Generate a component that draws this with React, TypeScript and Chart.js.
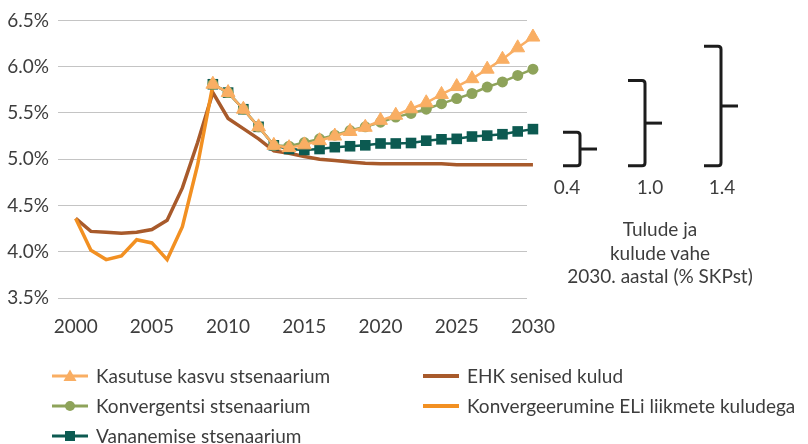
import React, { useEffect, useRef } from 'react';
import { Chart, registerables } from 'chart.js';

Chart.register(...registerables);

const years = [
  2000, 2001, 2002, 2003, 2004, 2005, 2006, 2007, 2008, 2009,
  2010, 2011, 2012, 2013, 2014, 2015, 2016, 2017, 2018, 2019,
  2020, 2021, 2022, 2023, 2024, 2025, 2026, 2027, 2028, 2029, 2030,
];
const xTickYears = [2000, 2005, 2010, 2015, 2020, 2025, 2030];

const kasutuseKasvu = [
  null, null, null, null, null, null, null, null, null,
  5.81, 5.72, 5.54, 5.35, 5.15, 5.125, 5.155, 5.2, 5.25, 5.3, 5.345,
  5.42, 5.475, 5.545, 5.61, 5.7, 5.785, 5.87, 5.973, 6.08, 6.204, 6.32,
];
const konvergentsi = [
  null, null, null, null, null, null, null, null, null,
  5.81, 5.72, 5.54, 5.35, 5.15, 5.14, 5.18, 5.22, 5.26, 5.31, 5.35,
  5.4, 5.455, 5.495, 5.54, 5.6, 5.655, 5.71, 5.78, 5.835, 5.905, 5.973,
];
const vananemise = [
  null, null, null, null, null, null, null, null, null,
  5.81, 5.72, 5.54, 5.35, 5.15, 5.11, 5.1, 5.11, 5.13, 5.14, 5.15,
  5.17, 5.17, 5.175, 5.2, 5.215, 5.22, 5.245, 5.255, 5.27, 5.3, 5.325,
];
const ehkSenisedKulud = [
  4.36, 4.22, 4.21, 4.2, 4.21, 4.24, 4.34, 4.69, 5.18, 5.72,
  5.44, 5.33, 5.22, 5.09, 5.065, 5.03, 5.0, 4.985, 4.97, 4.955,
  4.95, 4.95, 4.95, 4.95, 4.95, 4.94, 4.94, 4.94, 4.94, 4.94, 4.94,
];
const konvergeerumineEL = [
  4.36, 4.015, 3.915, 3.955, 4.13, 4.095, 3.915, 4.27, 4.94, 5.8,
  null, null, null, null, null, null, null, null, null, null,
  null, null, null, null, null, null, null, null, null, null, null,
];

// gap annotation (Tulude ja kulude vahe 2030)
const gapLabels = ['0.4', '1.0', '1.4'];
const gapBracketBase = 4.93;
const gapBracketTops = [5.29, 5.85, 6.22];

const TEXT = '#3d3d3d';
const FONT = 'Lato, "Open Sans", sans-serif';

const C_KASUTUS = '#F9AE63';
const C_KONV = '#8EA35A';
const C_VANA = '#0C5A51';
const C_EHK = '#A85A2B';
const C_EL = '#F29022';

const toXY = (arr: (number | null)[]) => years.map((x, i) => ({ x, y: arr[i] }));

const bracketPlugin = {
  id: 'gapBrackets',
  afterDraw(chart: any) {
    const { ctx, chartArea, scales } = chart;
    const y = scales.y;
    const offsets = [53, 118, 194];
    ctx.save();
    ctx.strokeStyle = '#1c1c1c';
    ctx.lineWidth = 3;
    ctx.lineJoin = 'round';
    ctx.lineCap = 'butt';
    gapBracketTops.forEach((top, i) => {
      const yt = y.getPixelForValue(top);
      const yb = y.getPixelForValue(gapBracketBase);
      const xv = chartArea.right + offsets[i];
      const xl = xv - 17;
      const xr = xv + 17;
      const ym = (yt + yb) / 2;
      const r = 3;
      ctx.beginPath();
      ctx.moveTo(xl, yt);
      ctx.lineTo(xv - r, yt);
      ctx.quadraticCurveTo(xv, yt, xv, yt + r);
      ctx.lineTo(xv, yb - r);
      ctx.quadraticCurveTo(xv, yb, xv - r, yb);
      ctx.lineTo(xl, yb);
      ctx.stroke();
      ctx.beginPath();
      ctx.moveTo(xv, ym);
      ctx.lineTo(xr, ym);
      ctx.stroke();
    });
    ctx.restore();
  },
};

function LegendMarker({ color, kind }: { color: string; kind: string }) {
  return (
    <svg width={40} height={16} style={{ position: 'absolute', left: 0, top: -8 }}>
      <line x1={2} y1={8} x2={38} y2={8} stroke={color} strokeWidth={kind === 'line' ? 4 : 3} />
      {kind === 'triangle' && <polygon points="20,1.5 26.5,13 13.5,13" fill={color} />}
      {kind === 'circle' && <circle cx={20} cy={8} r={5} fill={color} />}
      {kind === 'rect' && <rect x={15} y={3} width={10} height={10} fill={color} />}
    </svg>
  );
}

const legendItems = [
  { label: 'Kasutuse kasvu stsenaarium', color: C_KASUTUS, kind: 'triangle', x: 50, y: 376 },
  { label: 'Konvergentsi stsenaarium', color: C_KONV, kind: 'circle', x: 50, y: 406 },
  { label: 'Vananemise stsenaarium', color: C_VANA, kind: 'rect', x: 50, y: 436 },
  { label: 'EHK senised kulud', color: C_EHK, kind: 'line', x: 421, y: 376 },
  { label: 'Konvergeerumine ELi liikmete kuludega', color: C_EL, kind: 'line', x: 421, y: 406 },
];

export default function App() {
  const canvasRef = useRef<HTMLCanvasElement | null>(null);

  useEffect(() => {
    const canvas = canvasRef.current;
    if (!canvas) return;
    const tickFont = { family: FONT, size: 19 };
    const chart = new Chart(canvas, {
      type: 'line',
      data: {
        datasets: [
          {
            label: 'Kasutuse kasvu stsenaarium',
            data: toXY(kasutuseKasvu),
            borderColor: C_KASUTUS,
            backgroundColor: C_KASUTUS,
            borderWidth: 2.5,
            pointStyle: 'triangle',
            pointRadius: 8,
            pointHoverRadius: 10,
            pointBorderWidth: 1,
            pointBackgroundColor: C_KASUTUS,
            pointBorderColor: C_KASUTUS,
            tension: 0,
            clip: false,
          },
          {
            label: 'Konvergentsi stsenaarium',
            data: toXY(konvergentsi),
            borderColor: C_KONV,
            backgroundColor: C_KONV,
            borderWidth: 2.5,
            pointStyle: 'circle',
            pointRadius: 5.5,
            pointHoverRadius: 10,
            pointBorderWidth: 0,
            pointBackgroundColor: C_KONV,
            tension: 0,
            clip: false,
          },
          {
            label: 'Vananemise stsenaarium',
            data: toXY(vananemise),
            borderColor: C_VANA,
            backgroundColor: C_VANA,
            borderWidth: 2.5,
            pointStyle: 'rect',
            pointRadius: 7.5,
            pointHoverRadius: 10,
            pointBorderWidth: 0,
            pointBackgroundColor: C_VANA,
            tension: 0,
            clip: false,
          },
          {
            label: 'Konvergeerumine ELi liikmete kuludega',
            data: toXY(konvergeerumineEL),
            borderColor: C_EL,
            backgroundColor: C_EL,
            borderWidth: 3.5,
            pointRadius: 0,
            pointHoverRadius: 0,
            tension: 0,
            clip: false,
          },
          {
            label: 'EHK senised kulud',
            data: toXY(ehkSenisedKulud),
            borderColor: C_EHK,
            backgroundColor: C_EHK,
            borderWidth: 3.5,
            pointRadius: 0,
            pointHoverRadius: 0,
            tension: 0,
            clip: false,
          },
        ],
      },
      options: {
        animation: false,
        responsive: false,
        devicePixelRatio: 1,
        events: [],
        layout: { padding: { top: 17, right: 281, bottom: 0, left: 0 } },
        plugins: {
          legend: { display: false },
          tooltip: { enabled: false },
        },
        scales: {
          x: {
            type: 'linear',
            min: 1998.84,
            max: 2029.61,
            grid: { display: false, drawTicks: false },
            border: { display: false },
            afterBuildTicks: (s: any) => {
              s.ticks = xTickYears.map((v) => ({ value: v }));
            },
            afterFit: (s: any) => {
              s.height = 146;
            },
            ticks: {
              padding: 17,
              autoSkip: false,
              maxRotation: 0,
              font: tickFont,
              color: TEXT,
              callback: (v: any) => String(v),
            },
          },
          y: {
            min: 3.5,
            max: 6.5,
            afterFit: (s: any) => {
              s.width = 58;
            },
            grid: { color: '#c4c4c4', lineWidth: 1, drawTicks: false },
            border: { display: false },
            ticks: {
              stepSize: 0.5,
              padding: 9,
              font: tickFont,
              color: TEXT,
              callback: (v: any) => Number(v).toFixed(1) + '%',
            },
          },
        },
      },
      plugins: [bracketPlugin],
    } as any);
    return () => chart.destroy();
  }, []);

  const textStyle: React.CSSProperties = {
    position: 'absolute',
    fontFamily: FONT,
    fontSize: 19,
    color: TEXT,
    whiteSpace: 'nowrap',
    lineHeight: '22px',
  };

  return (
    <div style={{ position: 'absolute', left: 0, top: 0, width: 808, height: 444, background: '#fff', overflow: 'hidden' }}>
      <canvas ref={canvasRef} width={808} height={444} style={{ position: 'absolute', left: 0, top: 0, width: 808, height: 444 }} />
      {gapLabels.map((g, i) => (
        <div key={g} style={{ ...textStyle, left: [567, 650, 722][i], top: 187, transform: 'translate(-50%, -50%)' }}>
          {g}
        </div>
      ))}
      <div style={{ ...textStyle, left: 660, top: 252, transform: 'translate(-50%, -50%)', textAlign: 'center', lineHeight: '23.5px' }}>
        Tulude ja<br />kulude vahe<br />2030. aastal (% SKPst)
      </div>
      {legendItems.map((it) => (
        <div key={it.label} style={{ position: 'absolute', left: it.x, top: it.y, height: 0 }}>
          <LegendMarker color={it.color} kind={it.kind} />
          <div style={{ ...textStyle, left: 46, top: -11 }}>{it.label}</div>
        </div>
      ))}
    </div>
  );
}
